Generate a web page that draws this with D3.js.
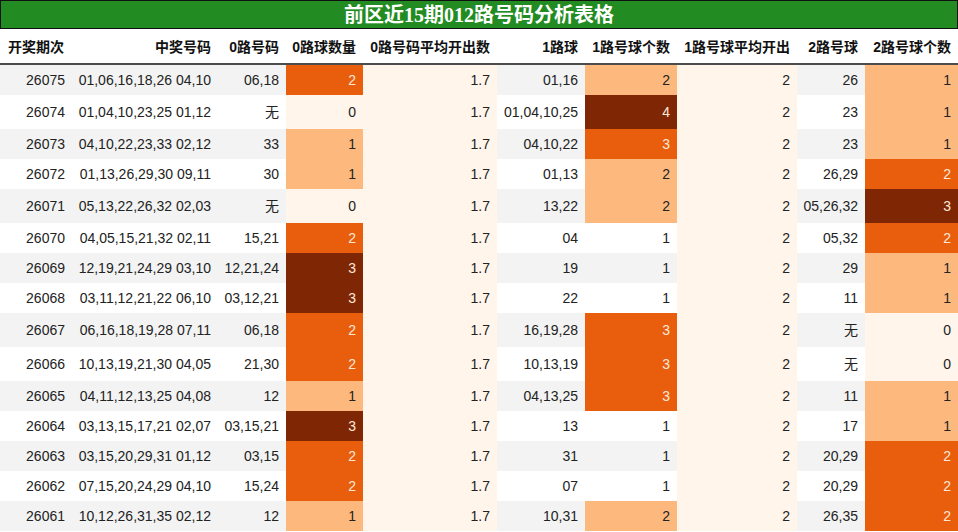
<!DOCTYPE html>
<html><head><meta charset="utf-8">
<script src="https://cdn.jsdelivr.net/npm/d3@7"></script>
<style>body{margin:0;background:#fff}</style>
</head><body><div id="chart"></div>
<script>
const title = '前区近15期012路号码分析表格';
const headers = ['开奖期次','中奖号码','0路号码','0路球数量','0路号码平均开出数','1路球','1路号球个数','1路号球平均开出','2路号球','2路号球个数'];
const periods = ['26075','26074','26073','26072','26071','26070','26069','26068','26067','26066','26065','26064','26063','26062','26061'];
const winning = ['01,06,16,18,26 04,10','01,04,10,23,25 01,12','04,10,22,23,33 02,12','01,13,26,29,30 09,11','05,13,22,26,32 02,03','04,05,15,21,32 02,11','12,19,21,24,29 03,10','03,11,12,21,22 06,10','06,16,18,19,28 07,11','10,13,19,21,30 04,05','04,11,12,13,25 04,08','03,13,15,17,21 02,07','03,15,20,29,31 01,12','07,15,20,24,29 04,10','10,12,26,31,35 02,12'];
const road0 = ['06,18','无','33','30','无','15,21','12,21,24','03,12,21','06,18','21,30','12','03,15,21','03,15','15,24','12'];
const road0Count = [2,0,1,1,0,2,3,3,2,2,1,3,2,2,1];
const road0Avg = '1.7';
const road1 = ['01,16','01,04,10,25','04,10,22','01,13','13,22','04','19','22','16,19,28','10,13,19','04,13,25','13','31','07','10,31'];
const road1Count = [2,4,3,2,2,1,1,1,3,3,3,1,1,1,2];
const road1Avg = '2';
const road2 = ['26','23','23','26,29','05,26,32','05,32','29','11','无','无','11','17','20,29','20,29','26,35'];
const road2Count = [1,1,1,2,3,2,1,1,0,0,1,1,2,2,2];

const W = 958, H = 532;
const colX = [0,72,218,286,363,497,585,677,797,865,958];
const titleH = 29, headH = 36;
const rows = periods.map((p,i)=>[p,winning[i],road0[i],road0Count[i],road0Avg,road1[i],road1Count[i],road1Avg,road2[i],road2Count[i]]);
const rowH = rows.map(r => r.includes('无') ? 34 : 30);
const rowY = [];
rowH.reduce((y,h,i)=>{rowY[i]=y;return y+h;}, titleH+headH);

const palette = ['#fff5eb','#fdb97d','#e95e0d','#7f2704'];
const c02 = d3.scaleOrdinal().domain([0,1,2,3]).range(palette);
const c1 = d3.scaleOrdinal().domain([1,2,3,4]).range([null,'#fdb97d','#e95e0d','#7f2704']);
function bg(col,v,i){
  if(col===3||col===9) return c02(v);
  if(col===6) return c1(v) || (i%2===0?'#f3f3f3':'#fff');
  if(col===4||col===7) return '#fff5eb';
  return i%2===0?'#f3f3f3':'#fff';
}
function fg(col,v){
  if((col===3||col===6||col===9) && v>=2 && !(col===6&&v<3&&false)) {
    const c = bg(col,v,0);
    return (c==='#e95e0d'||c==='#7f2704') ? '#fde8d8' : '#222';
  }
  return '#222';
}

const svg = d3.select('#chart').append('svg').attr('width',W).attr('height',H)
  .style('font-family','"Liberation Sans","Noto Sans CJK SC",sans-serif');

svg.append('rect').attr('x',0.5).attr('y',0.5).attr('width',W-1).attr('height',titleH-1)
  .attr('fill','#228b22').attr('stroke','#111');
svg.append('text').attr('x',W/2).attr('y',titleH/2+7).attr('text-anchor','middle')
  .attr('fill','#fff').attr('font-size','20px').attr('font-weight','bold')
  .style('font-family','"Liberation Serif","Noto Sans CJK SC",serif').text(title);

svg.selectAll('text.head').data(headers).enter().append('text').attr('class','head')
  .attr('x',(d,i)=> i===0 ? 8 : colX[i+1]-7)
  .attr('y',titleH+headH/2+5).attr('text-anchor',(d,i)=>i===0?'start':'end')
  .attr('font-size','14px').attr('font-weight','bold').attr('fill','#111').text(d=>d);

const g = svg.append('g');
rows.forEach((r,i)=>{
  r.forEach((v,c)=>{
    g.append('rect').attr('x',colX[c]).attr('y',rowY[i]).attr('width',colX[c+1]-colX[c]).attr('height',rowH[i])
      .attr('fill',bg(c,v,i));
    g.append('text').attr('x',colX[c+1]-7).attr('y',rowY[i]+rowH[i]/2+5)
      .attr('text-anchor','end').attr('font-size','14px').attr('fill',fg(c,v)).text(v);
  });
});
svg.append('line').attr('x1',0).attr('x2',W).attr('y1',titleH+headH-1).attr('y2',titleH+headH-1)
  .attr('stroke','#111').attr('stroke-width',1.5);
</script></body></html>
